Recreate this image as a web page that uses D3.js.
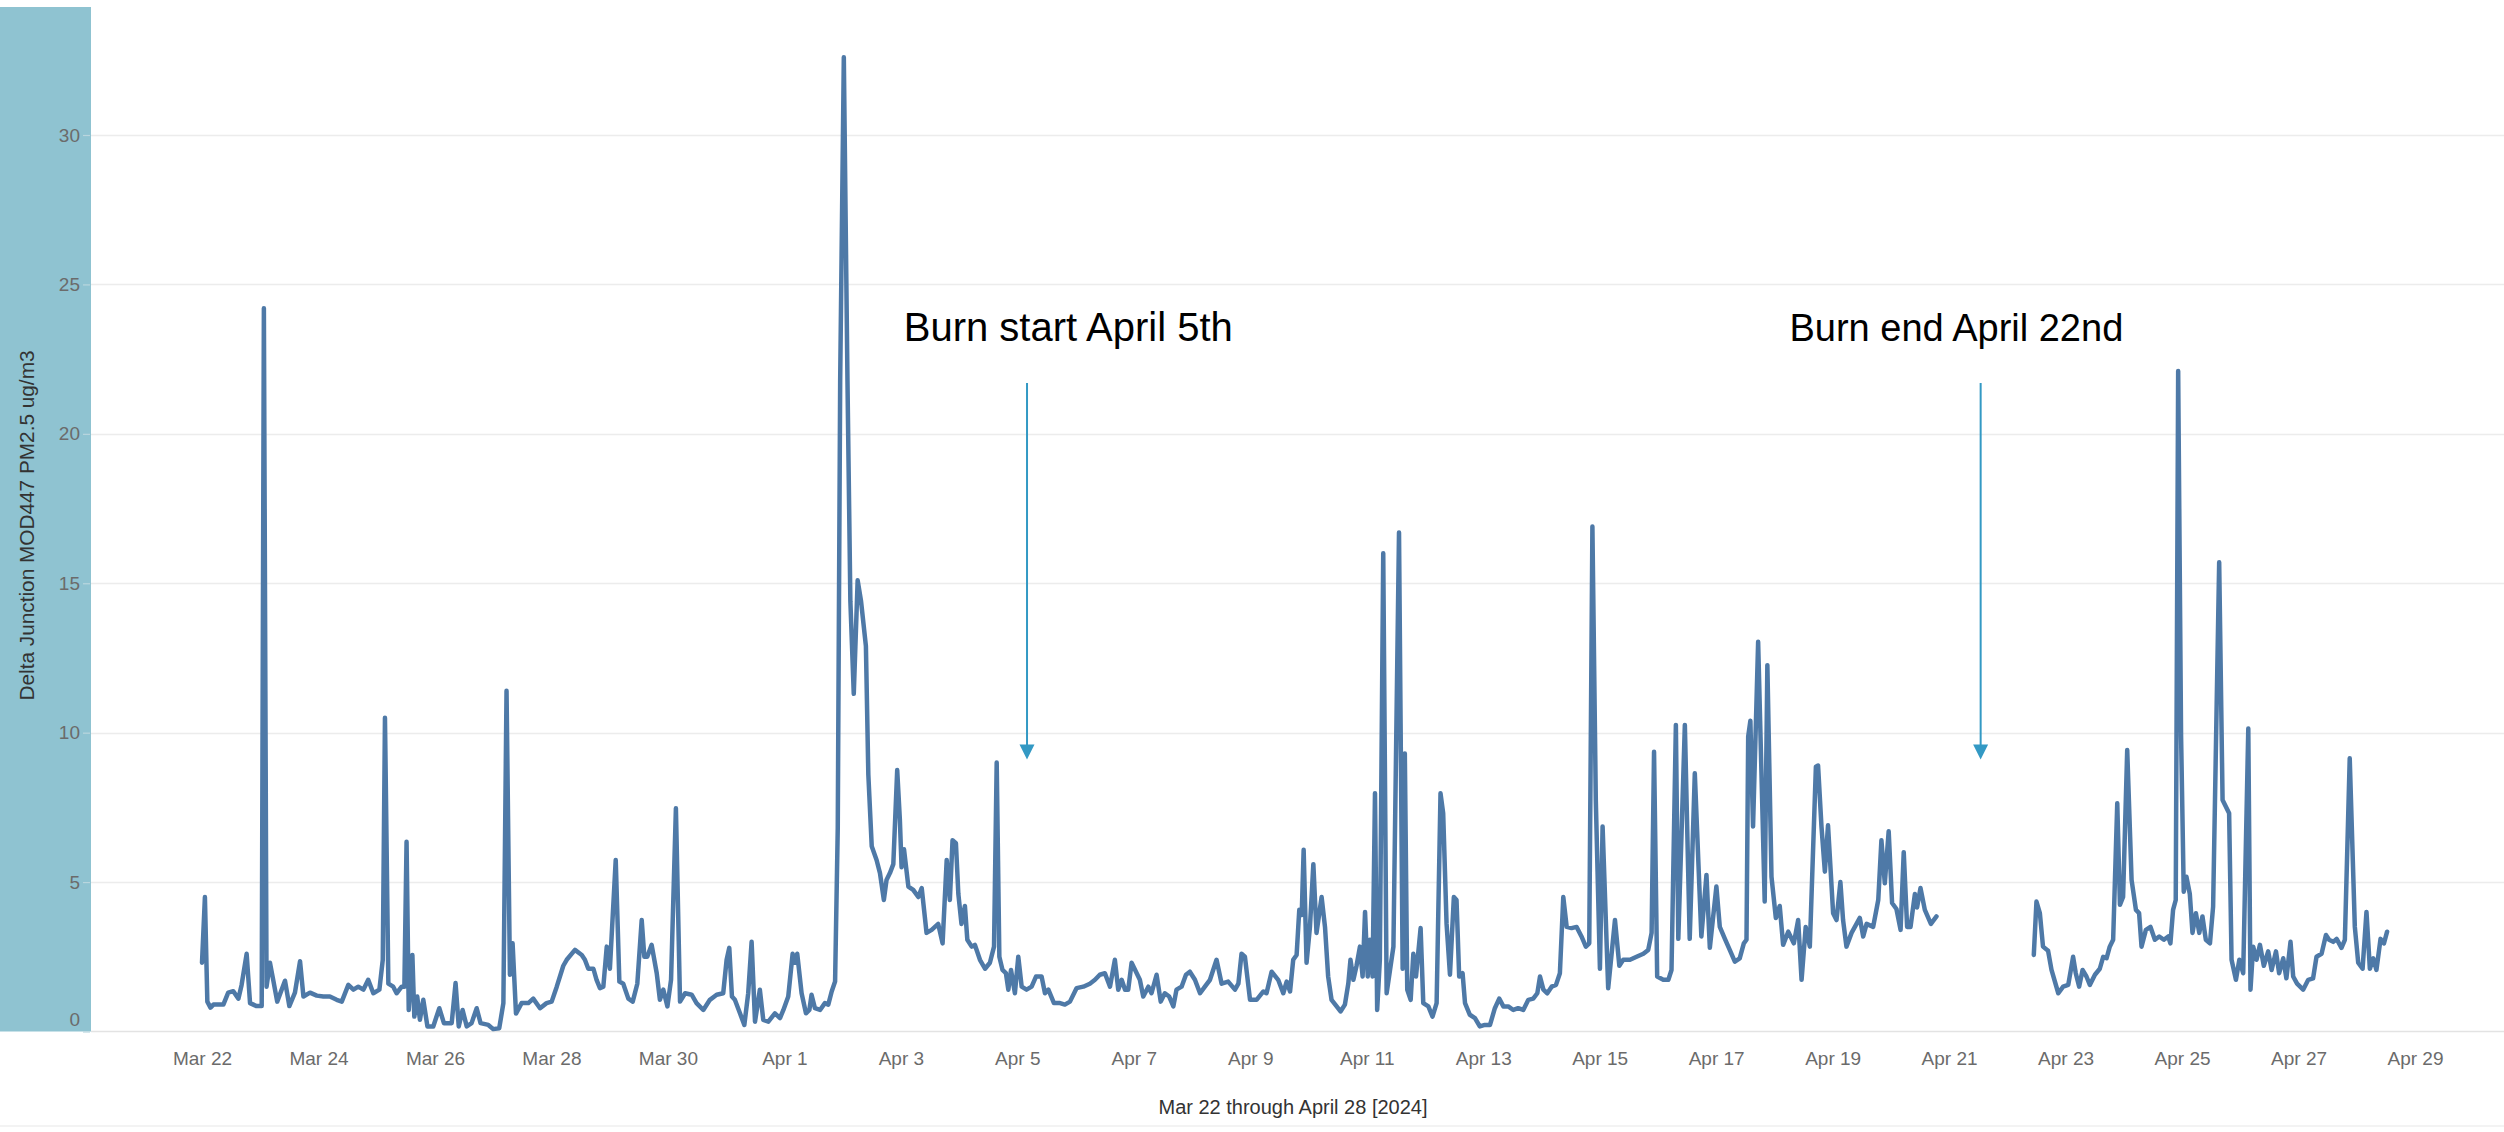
<!DOCTYPE html>
<html>
<head>
<meta charset="utf-8">
<script src="https://cdn.jsdelivr.net/npm/d3@7"></script>
<style>
  html, body { margin: 0; padding: 0; background: #ffffff; }
  svg { display: block; }
</style>
</head>
<body>
<svg id="chart" width="2504" height="1132"></svg>
<script>
// ---------------- DATA ----------------
const startDate = "2024-03-22T00:00:00Z";
// Hours since Mar 22 00:00 (2024) ; null value marks the data gap (Apr 20-22)
const hoursSinceStart = [
  0,1.2,2.2,3.5,4.7,8.8,10.8,12.9,15,16.3,18.4,19.8,22.5,24.6,25.5,26.6,28,29.4,31,34.2,
  36,38.3,40.4,41.8,44.5,47.3,50,52.7,55.5,57.6,60.3,62.4,64.4,66.5,68.5,70.6,73.1,74.5,75.4,76.8,
  78.8,80.2,82.3,83.4,84.3,85.2,86.7,87.5,88.7,89.8,91.2,92.9,95.3,97.8,99.7,102.9,104.5,105.8,107.4,109.1,
  111.1,113.2,114.8,118,120,122.5,124.2,125.5,126.9,128,129.4,131.7,134.5,136.5,139.3,142,144.1,146.2,148.9,150.3,
  153.7,156.5,157.8,159.2,161.3,162.6,164,165.4,166.8,168.1,170.5,172,173.6,175.7,177.5,179.4,181.2,182.3,183.5,185.3,
  187.4,188.7,190.1,191.8,193.3,195.3,197,199.1,201.8,203.8,206.6,209.3,212.1,214.8,216.2,217.3,218.4,219.6,221.7,223.5,
  225.1,226.5,227.9,229.9,231.3,233.4,236.1,238.2,239.6,241.6,243.4,244.4,245.3,247.1,248.9,250.3,251.2,252.6,254.7,256.7,
  258.1,259.5,260.9,262,263,264.5,266,267.2,268.6,270.2,271.6,273.6,274.6,276,278,279.4,281,282.1,283.5,284.9,
  286.5,287.6,288.3,289.3,291.1,293.1,295.2,296.6,298.6,300.7,303.4,305.2,306.9,308.2,309.3,310.7,311.7,313,314.4,315.4,
  317.2,318.5,320.6,322.7,324.7,326.4,327.5,328.6,329.9,331.3,332.3,333.4,335,336.4,337.8,339.8,341.9,343.7,346,347.4,
  348.8,351.1,353.6,355.6,357.7,360.4,363.2,365.9,368,370,372.1,374.2,376.2,377.6,379,380.4,381.7,383.1,385.2,386.5,
  387.9,390,391.3,393.4,395.1,396.8,398.6,400.3,401.6,403.7,405.5,407.1,409.2,411.3,413.3,415.4,418.1,420.2,422.9,425.7,
  427.1,428.4,429.8,431.9,434.6,437.4,438.7,440.8,443.5,445.6,447,448.4,449.7,451.1,452.2,453.2,454,455.2,456.6,458,
  459.3,461.4,462.8,464.1,465.5,467.6,469.2,471,472.4,473.3,474.5,475.8,477.2,478.3,479.3,480.4,481.3,482.4,483.4,484.3,
  485.4,486.8,488.2,489.6,491,493.3,494.8,495.7,496.7,498.1,499.2,500.3,502.2,503.3,505.4,507.1,508.8,510.4,511.5,512.9,
  514.3,515.9,517,518.1,519.5,520.5,522.5,524.6,526.6,528.7,530.8,532.8,534.6,536.3,538.3,540.4,542.4,544.5,546.6,548.6,
  550.3,551.4,552.8,554.4,556.2,558,559.6,561,562.4,564.4,566.5,568.5,570.3,571.7,573,574.4,576.1,577.2,579.5,582.3,
  584.1,585.7,588.5,591.2,594,596,597.4,598.4,599.7,602.2,604.3,605.6,607.4,608.4,611.1,613.1,615.2,617.9,620,621.4,
  624.1,625.5,627.6,629.6,631.7,633.7,635.4,636.5,637.2,638.1,639.2,641.3,644,645.1,646.8,648.6,650.2,651.6,653.7,656,
  657.8,659.2,660.9,662.6,665.1,666,667.4,668.8,670.1,672.2,673.6,675.2,676.3,677.7,679.8,683.2,684.6,686,688.7,690.8,
  692.1,693.5,695.1,696.5,698.3,700,701.3,702.7,704.1,705.9,706.8,708.2,710,712.5,714.8,
  735,
  754.9,756,757.4,758.7,760.8,762.2,765,767,769.1,771.1,772.2,773.6,775,776.6,778,780.1,782.1,783.5,784.9,786.2,
  787.6,789.3,790.4,791.7,793.4,795.2,797,798.3,799.3,801.1,803,804.8,806.6,808.5,810.3,811.2,812.3,813.4,814.4,815.6,
  816.7,817.8,819.2,820.3,821.7,823.1,824.4,825.8,827.5,828.8,831.3,832.7,835.4,836.4,838.2,839.6,841.2,843.3,844.2,845.3,
  846.7,848.1,849.7,851.5,852.9,854.7,856,857.7,859,860.7,861.8,863.4,865.9,868,870,871.4,873.5,875.3,876.6,878.3,
  879.7,881.7,883.1,885.1,887.2,888.6,890.4,892,893.4,894.8,896.1,897.8,899.2,900.5
];
const pm25 = [
  2.3,4.5,1.0,0.8,0.9,0.9,1.3,1.35,1.1,1.55,2.6,0.95,0.85,0.85,24.2,1.5,2.3,1.7,1.0,1.7,
  0.85,1.3,2.35,1.17,1.3,1.2,1.17,1.17,1.06,1.0,1.56,1.4,1.5,1.4,1.73,1.28,1.4,2.4,10.5,1.6,
  1.5,1.28,1.5,1.5,6.35,0.72,2.56,0.5,1.17,0.39,1.06,0.17,0.17,0.78,0.28,0.28,1.62,0.17,0.72,0.17,
  0.28,0.78,0.28,0.22,0.08,0.11,0.95,11.4,1.9,2.95,0.6,0.95,0.95,1.1,0.78,0.95,1.0,1.5,2.2,2.4,
  2.73,2.56,2.4,2.1,2.1,1.73,1.45,1.5,2.84,2.1,5.74,1.67,1.6,1.1,1.0,1.6,3.73,2.5,2.5,2.9,
  1.95,1.06,1.4,0.84,1.73,7.47,1.0,1.28,1.23,0.95,0.72,1.06,1.23,1.28,2.4,2.8,1.17,1.06,0.61,0.22,
  1.28,3.0,0.33,1.4,0.39,0.33,0.61,0.45,0.72,1.17,2.6,2.3,2.6,1.28,0.61,0.72,1.23,0.78,0.72,0.95,
  0.9,1.34,1.67,6.8,21.8,32.6,21.8,14.4,11.3,15.1,14.4,12.9,8.6,6.2,5.74,5.3,4.4,5.07,5.3,5.6,
  8.75,7.08,5.5,6.1,4.85,4.74,4.5,4.8,3.3,3.4,3.6,2.95,5.74,4.4,6.4,6.3,4.6,3.6,4.2,3.07,
  2.84,2.9,2.4,2.1,2.3,2.84,9.0,2.5,2.06,1.95,1.4,2.06,1.28,2.5,1.5,1.4,1.5,1.84,1.84,1.28,
  1.4,0.95,0.95,0.9,1.0,1.45,1.5,1.6,1.73,1.9,1.95,1.5,2.4,1.4,1.73,1.4,1.4,2.3,1.95,1.73,
  1.17,1.5,1.28,1.9,1.0,1.28,1.17,0.84,1.4,1.5,1.9,2.0,1.73,1.28,1.5,1.73,2.4,1.6,1.67,1.4,
  1.6,2.6,2.5,1.06,1.06,1.34,1.28,2.0,1.73,1.28,1.67,1.34,2.4,2.56,4.07,3.9,6.08,2.3,3.5,5.6,
  3.3,4.5,3.5,1.84,1.06,0.84,0.67,0.9,1.6,2.4,1.73,2.2,2.84,1.84,4.0,1.84,3.07,1.84,7.97,0.72,
  2.4,16.0,1.28,2.06,2.84,16.7,2.1,9.3,1.4,1.06,2.6,1.84,3.46,0.95,0.84,0.5,0.95,7.97,7.3,3.6,
  1.9,4.5,4.4,1.84,1.95,0.95,0.56,0.45,0.17,0.22,0.22,0.78,1.1,0.84,0.84,0.72,0.78,0.72,1.06,1.1,
  1.28,1.84,1.4,1.28,1.5,1.56,1.95,4.5,3.5,3.46,3.5,3.18,2.84,2.95,16.9,7.75,2.1,6.86,1.45,3.73,
  2.2,2.4,2.4,2.5,2.6,2.73,3.3,9.36,1.84,1.73,1.73,2.06,10.26,3.1,10.26,3.1,8.64,3.18,5.24,2.8,
  4.85,3.5,3.1,2.73,2.34,2.45,2.95,3.07,9.87,10.4,6.86,13.04,4.35,12.26,5.18,3.8,4.2,2.9,3.34,2.95,
  3.73,1.73,3.5,2.84,8.86,8.9,6.86,5.35,6.9,3.96,3.73,5.0,3.73,2.84,3.3,3.8,3.18,3.6,3.5,4.4,
  6.4,4.96,6.7,4.3,4.1,3.4,6.0,3.5,3.5,4.6,4.15,4.8,4.07,3.6,3.85,
  null,
  2.56,4.35,3.96,2.84,2.7,2.06,1.28,1.5,1.56,2.5,1.95,1.5,2.06,1.84,1.56,1.9,2.1,2.5,2.45,2.84,
  3.07,7.64,4.24,4.5,9.42,5.07,4.07,3.96,2.84,3.4,3.5,3.07,3.18,3.07,3.18,2.95,4.07,4.4,22.1,9.87,
  4.68,5.18,4.6,3.3,3.96,3.3,3.85,3.07,2.95,4.18,15.7,7.75,7.3,2.4,1.73,2.4,1.95,10.14,1.4,2.84,
  2.4,2.9,2.2,2.68,2.06,2.68,1.95,2.45,1.78,3.0,1.84,1.6,1.4,1.73,1.78,2.5,2.6,3.23,3.07,3.0,
  3.1,2.8,3.07,9.14,3.5,2.3,2.1,4.0,2.1,2.45,2.06,3.1,2.95,3.34
];

const yTicks = [0, 5, 10, 15, 20, 25, 30];
const xTickDates = ["2024-03-22","2024-03-24","2024-03-26","2024-03-28","2024-03-30","2024-04-01",
  "2024-04-03","2024-04-05","2024-04-07","2024-04-09","2024-04-11","2024-04-13","2024-04-15",
  "2024-04-17","2024-04-19","2024-04-21","2024-04-23","2024-04-25","2024-04-27","2024-04-29"];

const yTitle = "Delta Junction MOD447 PM2.5 ug/m3";
const xTitle = "Mar 22 through April 28 [2024]";

// annotations: label, label anchor time, arrow time, arrow top/bottom values
const annotationLabels = ["Burn start April 5th", "Burn end April 22nd"];
const annotationLabelTimes = ["2024-04-05T21:00:00Z", "2024-04-21T03:00:00Z"];
const annotationArrowTimes = ["2024-04-05T04:00:00Z", "2024-04-21T13:00:00Z"];
const annotationArrowTop = 21.7;
const annotationArrowTip = 9.1;
const annotationLabelValue = 23.1;

// ---------------- CHART ----------------
const W = 2504, H = 1132;
const plotLeft = 91, plotRight = 2504, plotTop = 7, plotBottom = 1031.5;
const svg = d3.select("#chart");

const t0 = new Date(startDate).getTime();
const data = hoursSinceStart.map((h, i) => ({ t: new Date(t0 + h * 3600e3), v: pm25[i] }));

const x = d3.scaleUtc()
  .domain([new Date("2024-03-22T00:00:00Z"), new Date("2024-04-29T00:00:00Z")])
  .range([202, 2415]);
const y = d3.scaleLinear().domain([0, 30]).range([1031.5, 135]);

// left band
svg.append("rect").attr("x", 0).attr("y", plotTop).attr("width", plotLeft).attr("height", plotBottom - plotTop)
  .attr("fill", "#8fc3d1");

// gridlines
svg.append("g").selectAll("line").data(yTicks.filter(d => d > 0)).join("line")
  .attr("x1", plotLeft).attr("x2", plotRight)
  .attr("y1", d => Math.round(y(d)) + 0.5).attr("y2", d => Math.round(y(d)) + 0.5)
  .attr("stroke", "#ececec").attr("stroke-width", 1.5);

// bottom axis line and bottom separator
svg.append("line").attr("x1", plotLeft).attr("x2", plotRight).attr("y1", plotBottom).attr("y2", plotBottom)
  .attr("stroke", "#e3e3e3").attr("stroke-width", 1.5);
svg.append("line").attr("x1", 0).attr("x2", W).attr("y1", 1126).attr("y2", 1126)
  .attr("stroke", "#efefef").attr("stroke-width", 1.5);

// y axis
const yAxis = svg.append("g").attr("transform", `translate(${plotLeft - 1},0)`)
  .call(d3.axisLeft(y).tickValues(yTicks).tickSize(7).tickPadding(3).tickFormat(d3.format("d")));
yAxis.select(".domain").remove();
yAxis.selectAll(".tick line").attr("stroke", "#b9d6de").attr("stroke-width", 1.2);
yAxis.selectAll(".tick text").attr("fill", "#6b6b6b").attr("font-size", 19)
  .attr("font-family", "Liberation Sans, Arial, sans-serif")
  .attr("dy", d => d === 0 ? "-0.3em" : "0.32em");

// y title
svg.append("text")
  .attr("transform", `translate(34,${(352 + 699) / 2}) rotate(-90)`)
  .attr("text-anchor", "middle")
  .attr("font-family", "Liberation Sans Narrow, Arial Narrow, Liberation Sans, sans-serif")
  .attr("font-size", 20).attr("fill", "#333")
  .attr("textLength", 350).attr("lengthAdjust", "spacingAndGlyphs")
  .text(yTitle);

// x axis
const xAxis = svg.append("g").attr("transform", `translate(0,${plotBottom})`)
  .call(d3.axisBottom(x).tickValues(xTickDates.map(d => new Date(d + "T00:00:00Z")))
    .tickSize(0).tickPadding(20).tickFormat(d3.utcFormat("%b %-d")));
xAxis.select(".domain").remove();
xAxis.selectAll(".tick text").attr("fill", "#6b6b6b").attr("font-size", 19)
  .attr("font-family", "Liberation Sans, Arial, sans-serif");

// x title
svg.append("text").attr("x", 1293).attr("y", 1114).attr("text-anchor", "middle")
  .attr("font-family", "Liberation Sans, Arial, sans-serif").attr("font-size", 20).attr("fill", "#333")
  .text(xTitle);

// data line
const line = d3.line().defined(d => d.v !== null).x(d => x(d.t)).y(d => y(d.v));
svg.append("path").datum(data).attr("d", line)
  .attr("fill", "none").attr("stroke", "#4e79a7").attr("stroke-width", 4.5)
  .attr("stroke-linejoin", "round").attr("stroke-linecap", "round");

// annotations
annotationLabels.forEach((lab, i) => {
  const ax = x(new Date(annotationArrowTimes[i]));
  const yTop = y(annotationArrowTop), yTip = y(annotationArrowTip);
  svg.append("line").attr("x1", ax).attr("x2", ax).attr("y1", yTop).attr("y2", yTip - 12)
    .attr("stroke", "#3399c4").attr("stroke-width", 2);
  svg.append("path").attr("d", `M${ax - 7.5},${yTip - 15} L${ax + 7.5},${yTip - 15} L${ax},${yTip} Z`)
    .attr("fill", "#3399c4");
  svg.append("text").attr("x", x(new Date(annotationLabelTimes[i]))).attr("y", y(annotationLabelValue))
    .attr("text-anchor", "middle").attr("font-family", "Liberation Sans, Arial, sans-serif")
    .attr("font-size", i === 0 ? 40 : 38).attr("fill", "#000").text(lab);
});
</script>
</body>
</html>
